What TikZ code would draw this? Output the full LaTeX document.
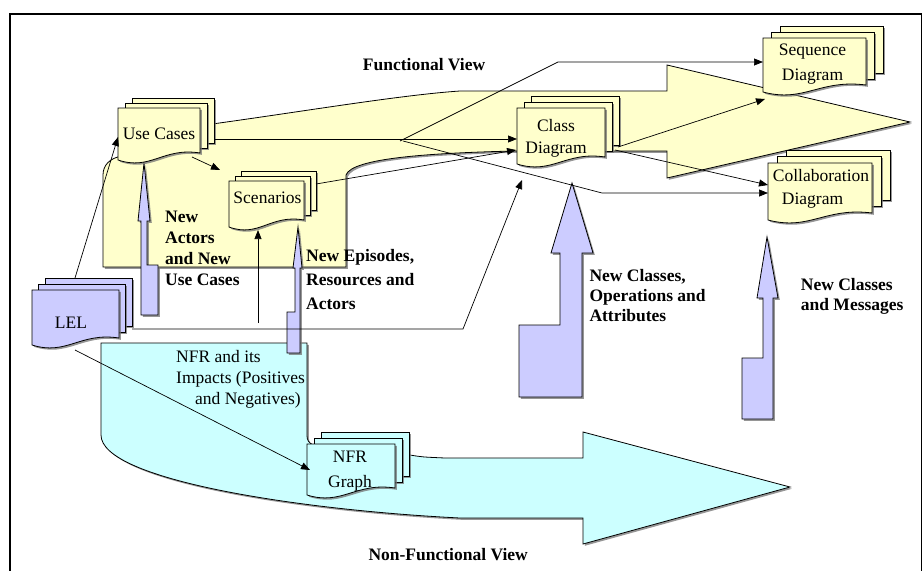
\documentclass[tikz,border=0pt]{standalone}
\usepackage{fontspec}
\setmainfont{Liberation Serif}
\usetikzlibrary{arrows.meta,shadows}
\definecolor{yfill}{HTML}{FFFFCC}
\definecolor{cfill}{HTML}{CCFFFF}
\definecolor{pfill}{HTML}{CCCCFF}
% multi-document shape: x, y (top-left of front page), w, h, dx, dy, fill
\newcommand{\mdoc}[7]{%
  \path[outl, fill=#7, shad] (#1+2*#5,#2-2*#6) rectangle ++(#3,#4);
  \path[outl, fill=#7, shad] (#1+#5,#2-#6) rectangle ++(#3,#4);
  \path[outl, fill=#7, shad] (#1,#2) -- (#1+#3,#2) -- (#1+#3,#2+#4)
     .. controls (#1+0.55*#3,#2+#4-6) and (#1+0.4*#3,#2+#4+18) .. (#1,#2+#4+7) -- cycle;
}
\tikzset{
  outl/.style={draw=black, line width=0.8pt, line join=miter},
  shad/.style={drop shadow={shadow xshift=1.8pt, shadow yshift=-1.8pt, fill=black!55, opacity=0.75}},
  conn/.style={draw=black, line width=0.7pt, -{Triangle[length=9pt,width=7pt]}},
  doclbl/.style={font=\fontsize{17.5}{24}\selectfont, inner sep=0pt, align=center},
  boldlbl/.style={font=\fontsize{17.5}{20.8}\selectfont\bfseries, inner sep=0pt, anchor=north west, align=left},
}
\begin{document}
\begin{tikzpicture}[x=1pt,y=-1pt]
\useasboundingbox (0,0) rectangle (923,570);
% frame
\draw[line width=1.3pt] (10,571) -- (10,14) -- (921.5,14) -- (921.5,571);

% functional view (yellow) big arrow
\path[outl, fill=yfill, shad] (205,125) .. controls (300,112) and (400,95) .. (460,91)
  -- (667,91) -- (667,65) -- (910,122) -- (667,178) -- (667,151) -- (515,151)
  .. controls (430,153) and (352,158) .. (346,175) -- (346,267) -- (103,267) -- (103,175)
  .. controls (103,165) and (110,158) .. (122,156) -- cycle;

% non-functional view (cyan) big arrow
\path[outl, fill=cfill, shad] (101,343) -- (307,343) -- (307,436)
  .. controls (307,440) and (309,443) .. (313,445) -- (410,455)
  .. controls (422,457) .. (445,458) -- (583,458) -- (583,432) -- (790,487)
  -- (583,544) -- (583,518) -- (460,518)
  .. controls (300,510) and (101,480) .. (101,435) -- cycle;

% lavender block arrows
\path[outl, fill=pfill, shad] (144,163) -- (150,221) -- (147,221) -- (147,265) -- (158,265)
  -- (158,315) -- (141,315) -- (141,221) -- (138,221) -- cycle;
\path[outl, fill=pfill, shad] (298,227) -- (302,268) -- (300,268) -- (300,353) -- (287,353)
  -- (287,312) -- (295,312) -- (295,268) -- (293,268) -- cycle;
\path[outl, fill=pfill, shad] (572,183) -- (593,253) -- (582,253) -- (582,397) -- (519,397)
  -- (519,325) -- (560,325) -- (560,253) -- (551,253) -- cycle;
\path[outl, fill=pfill, shad] (767,237) -- (778,298) -- (773,298) -- (773,419) -- (742,419)
  -- (742,358) -- (763,358) -- (763,298) -- (757,298) -- cycle;

% documents
\mdoc{118}{108}{82}{45}{7}{5}{yfill}
\mdoc{229}{181}{75}{39}{6}{5}{yfill}
\mdoc{517}{108}{88}{49}{7}{6}{yfill}
\mdoc{763}{38}{103}{47}{8.5}{6}{yfill}
\mdoc{768}{163}{104}{50}{9}{6.5}{yfill}
\mdoc{32}{290}{87}{48}{6.5}{6}{pfill}
\mdoc{307}{444}{88}{44}{7}{6}{cfill}

% document labels
\node[doclbl, anchor=base] (uc) at (159,139) {Use Cases};
\node[doclbl, anchor=base] (scen) at (267.5,203.3) {Scenarios};
\node[doclbl, anchor=north, font=\fontsize{17.5}{21.7}\selectfont] (cls) at (556,119) {Class\\Diagram};
\node[doclbl, anchor=north, font=\fontsize{17.5}{25.3}\selectfont] (seq) at (812.5,43.9) {Sequence\\Diagram};
\node[doclbl, anchor=north west, align=left, font=\fontsize{17.5}{23.6}\selectfont] (col) at (772.7,168.7) {Collaboration\\\hspace*{9pt}Diagram};
\node[doclbl, anchor=base] (lel) at (71,328.3) {LEL};
\node[doclbl, anchor=north, font=\fontsize{17.5}{25.4}\selectfont] (nfr) at (350,450.7) {NFR\\Graph};

% connector end points
\coordinate (lelTop) at (75,278);
\coordinate (ucIn) at (118,137);
\coordinate (ucOut) at (192,157);
\coordinate (scenIn) at (220,170);
\coordinate (ucRight) at (214,139);
\coordinate (clsIn1) at (517,139);
\coordinate (scenRight) at (316,184);
\coordinate (clsIn2) at (516,150);
\coordinate (fork1) at (400,141);
\coordinate (fork2) at (403,141);
\coordinate (bend1) at (558,62);
\coordinate (seqIn1) at (763,62);
\coordinate (bend2) at (602,193);
\coordinate (colIn1) at (768,193);
\coordinate (clsOut1) at (618,147);
\coordinate (seqIn2) at (765,99);
\coordinate (clsOut2) at (615,150);
\coordinate (colIn2) at (768,185);
\coordinate (lelRight) at (132,329);
\coordinate (bend3) at (463,329);
\coordinate (clsIn3) at (522,180);
\coordinate (vStart) at (258,323);
\coordinate (scenIn2) at (258,230);
\coordinate (lelBot) at (75,350);
\coordinate (nfrIn) at (310,470);

% connectors
\draw[conn] (lelTop) -- (ucIn);
\draw[conn] (ucOut) -- (scenIn);
\draw[conn] (ucRight) -- (clsIn1);
\draw[conn] (scenRight) -- (clsIn2);
\draw[conn] (fork1) -- (bend1) -- (seqIn1);
\draw[conn] (fork2) -- (bend2) -- (colIn1);
\draw[conn] (clsOut1) -- (seqIn2);
\draw[conn] (clsOut2) -- (colIn2);
\draw[conn] (lelRight) -- (bend3) -- (clsIn3);
\draw[conn] (vStart) -- (scenIn2);
\draw[conn] (lelBot) -- (nfrIn);

% texts
\node[boldlbl, anchor=base west] (fv) at (362.7,70) {Functional View};
\node[boldlbl, anchor=base west] (nfv) at (368.3,560) {Non-Functional View};
\node[boldlbl] (t1) at (165,211) {New\\Actors\\and New\\Use Cases};
\node[boldlbl, font=\fontsize{17.5}{24.3}\selectfont\bfseries] (t2) at (306,249) {New Episodes,\\Resources and\\Actors};
\node[boldlbl, font=\fontsize{17.5}{20}\selectfont\bfseries] (t3) at (589.3,269.5) {New Classes,\\Operations and\\Attributes};
\node[boldlbl, font=\fontsize{17.5}{20}\selectfont\bfseries] (t4) at (800.7,278.3) {New Classes\\and Messages};
\node[boldlbl, font=\fontsize{17.5}{20.8}\selectfont] (t5) at (176,350.3) {NFR and its\\Impacts (Positives\\\hspace*{19pt}and Negatives)};
\end{tikzpicture}
\end{document}
